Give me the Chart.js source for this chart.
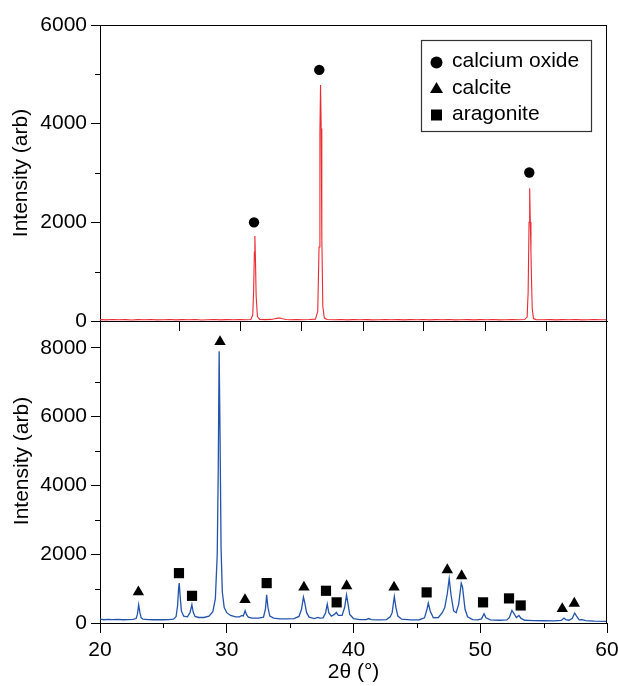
<!DOCTYPE html>
<html><head><meta charset="utf-8">
<script src="https://cdn.jsdelivr.net/npm/chart.js@4.4.0/dist/chart.umd.min.js"></script>
<style>
html,body{margin:0;padding:0;background:#fff;width:618px;height:686px;overflow:hidden}
#wrapTop{position:absolute;left:0;top:0;width:618px;height:340px;z-index:2}
#wrapBot{position:absolute;left:0;top:296px;width:618px;height:390px;z-index:1}
canvas{display:block}
</style></head><body>
<div id="wrapBot"><canvas id="bot" width="618" height="390"></canvas></div>
<div id="wrapTop"><canvas id="top" width="618" height="340"></canvas></div>
<script>
// ---------- data ----------
const topTheta = [20,20.5,21,21.5,22,22.5,23,23.5,24,24.5,25,25.5,26,26.5,27,27.5,28,28.5,29,29.5,30,30.5,31,31.5,31.9,32.05,32.12,32.18,32.22,32.26,32.32,32.42,32.6,33,33.5,33.8,34.0,34.2,34.4,34.7,35,35.5,36,36.5,37.0,37.18,37.28,37.35,37.4,37.45,37.5,37.58,37.7,37.9,38.5,39,39.5,40,40.5,41,41.5,42,42.5,43,43.5,44,44.5,45,45.5,46,46.5,47,47.5,48,48.5,49,49.5,50,50.5,51,51.5,52,52.5,53,53.5,53.7,53.78,53.85,53.9,53.95,54.0,54.04,54.1,54.2,54.4,55,55.5,56,56.5,57,57.5,58,58.5,59,59.5,60];
const topIntensity = [28,22,30,25,27,20,28,24,30,22,26,30,22,27,24,29,21,26,30,23,27,25,29,24,30,120,600,1400,1723,1300,500,90,32,28,32,45,58,60,45,30,26,28,24,29,38,200,1500,3800,4784,3900,1700,300,60,30,26,29,23,27,25,28,22,26,29,24,27,22,28,25,30,23,27,24,29,22,26,28,23,27,25,29,22,26,28,24,30,80,600,2000,2690,2000,1400,900,250,50,28,25,28,23,27,25,29,22,26,28,24,26];

const botTheta = [20.0,20.3,20.6,21.0,21.4,21.8,22.2,22.6,22.85,22.95,23.05,23.15,23.25,23.4,23.8,24.2,24.6,25.0,25.4,25.8,26.0,26.12,26.2,26.25,26.32,26.42,26.6,26.9,27.1,27.25,27.35,27.5,27.8,28.2,28.6,28.9,29.1,29.25,29.33,29.4,29.47,29.55,29.65,29.8,30.0,30.3,30.7,31.0,31.2,31.3,31.45,31.55,31.7,32.0,32.5,32.9,33.05,33.15,33.25,33.4,33.7,34.2,34.8,35.3,35.7,35.9,36.05,36.15,36.3,36.5,36.9,37.2,37.35,37.6,37.8,37.93,38.05,38.25,38.5,38.65,38.8,39.1,39.3,39.45,39.55,39.7,40.0,40.5,41.0,41.2,41.4,42.0,42.6,42.9,43.05,43.22,43.35,43.5,43.8,44.5,45.2,45.6,45.8,45.9,46.05,46.3,46.7,47.0,47.2,47.4,47.55,47.7,47.9,48.1,48.3,48.5,48.6,48.8,49.0,49.4,49.8,50.1,50.3,50.45,50.8,51.5,52.1,52.3,52.5,52.65,52.85,53.05,53.2,53.5,54.2,55.0,55.8,56.4,56.6,56.75,57.0,57.25,57.45,57.6,57.8,58.05,58.3,59.0,60.0];
const botIntensity = [110,95,105,100,108,95,100,105,130,250,530,300,150,110,100,95,100,95,100,110,180,500,1000,1160,800,350,200,180,300,530,320,190,160,160,200,330,700,2000,4500,7900,5500,2200,900,450,300,220,180,180,220,200,357,250,170,140,140,170,400,820,450,200,140,120,120,130,190,400,755,600,300,170,130,160,140,150,300,550,300,200,250,310,220,220,450,820,600,250,130,100,100,130,100,90,100,180,300,770,450,200,110,90,95,150,400,580,350,150,160,300,450,850,1295,800,350,300,550,1160,1050,400,180,100,90,120,270,150,90,80,90,160,366,280,160,220,140,80,70,65,60,75,145,100,80,130,290,200,90,100,70,55,50];

const caoMarkX = [32.15, 37.3, 53.87];
const caoMarkY = [2000, 5090, 3010];
const calciteX = [23.03, 29.47, 31.44, 36.09, 39.46, 43.2, 47.4, 48.53, 56.47, 57.42];
const calciteY = [900, 8175, 675, 1040, 1080, 1040, 1545, 1370, 415, 570];
const aragoniteX = [26.23, 27.26, 33.15, 37.83, 38.67, 45.77, 50.22, 52.27, 53.19];
const aragoniteY = [1450, 790, 1160, 937, 600, 890, 600, 715, 510];

const topXTicks = [26.3, 31.1, 35.9, 40.75, 45.55, 50.4, 55.25];
const topYTicks = [0, 2000, 4000, 6000];
const topYMinor = [1000, 3000, 5000];
const botXTicks = [20, 30, 40, 50, 60];
const botXMinor = [25, 35, 45, 55];
const botYTicks = [0, 2000, 4000, 6000, 8000];
const botYMinor = [1000, 3000, 5000, 7000];
const legendLabels = ['calcium oxide', 'calcite', 'aragonite'];
const yTitle = 'Intensity (arb)';
const xTitle = '2θ (°)';

// ---------- chart setup ----------
const FONT = '"Liberation Sans", Arial, Helvetica, sans-serif';
Chart.defaults.font.family = FONT;
Chart.defaults.font.size = 21;
Chart.defaults.color = '#000';

const pairs = (xs, ys) => xs.map((x, i) => ({x: x, y: ys[i]}));

const axisExtras = {
  id: 'axisExtras',
  afterDraw(chart, args, opts) {
    const ctx = chart.ctx, a = chart.chartArea, xs = chart.scales.x, ys = chart.scales.y;
    ctx.save();
    ctx.strokeStyle = '#000';
    ctx.lineWidth = 1;
    ctx.beginPath();
    (opts.minorX || []).forEach(v => {
      const p = Math.round(xs.getPixelForValue(v)) + 0.5;
      ctx.moveTo(p, a.bottom); ctx.lineTo(p, a.bottom + 5);
    });
    (opts.minorY || []).forEach(v => {
      const p = Math.round(ys.getPixelForValue(v)) + 0.5;
      ctx.moveTo(a.left, p); ctx.lineTo(a.left - 5, p);
    });
    const r = Math.round(a.right) - 0.5;
    const t = Math.round(a.top) + 0.5;
    if (opts.boxTop) {
      ctx.moveTo(a.left, t); ctx.lineTo(r + 0.5, t);
      ctx.moveTo(r, t); ctx.lineTo(r, a.bottom);
    } else {
      ctx.moveTo(r, a.top); ctx.lineTo(r, a.bottom);
    }
    ctx.stroke();
    if (opts.yTitleAt) {
      ctx.save();
      ctx.fillStyle = '#000';
      ctx.font = '21px ' + FONT;
      ctx.textAlign = 'center';
      ctx.textBaseline = 'middle';
      ctx.translate(opts.yTitleAt[0], opts.yTitleAt[1]);
      ctx.rotate(-Math.PI / 2);
      ctx.fillText(yTitle, 0, 0);
      ctx.restore();
    }
    if (opts.legend) {
      const bx = 421.5, by = 40.5, bw = 170, bh = 91;
      ctx.strokeStyle = '#333';
      ctx.lineWidth = 1.2;
      ctx.strokeRect(bx, by, bw, bh);
      ctx.fillStyle = '#000';
      ctx.font = '21px ' + FONT;
      ctx.textBaseline = 'middle';
      ctx.textAlign = 'left';
      const mx = 436.5, rows = [61.5, 88, 114.5];
      ctx.beginPath(); ctx.arc(mx, rows[0] + 1, 6, 0, Math.PI * 2); ctx.fill();
      ctx.beginPath();
      ctx.moveTo(mx, rows[1] - 6); ctx.lineTo(mx + 6.5, rows[1] + 5); ctx.lineTo(mx - 6.5, rows[1] + 5);
      ctx.closePath(); ctx.fill();
      ctx.fillRect(mx - 5.5, rows[2] - 5, 11, 11);
      legendLabels.forEach((s, i) => ctx.fillText(s, 452, rows[i]));
    }
    ctx.restore();
  }
};

function yScale(max, ticks, showTitle) {
  return {
    type: 'linear', min: 0, max: max,
    afterBuildTicks: s => { s.ticks = ticks.map(v => ({value: v})); },
    ticks: {padding: 4, callback: v => String(v), font: {size: 21}},
    grid: {display: true, drawOnChartArea: false, drawTicks: true, tickLength: 9, tickColor: '#000', tickWidth: 1},
    border: {display: true, color: '#000', width: 1},
    title: {display: showTitle, text: yTitle, font: {size: 21}, padding: {top: 9, bottom: 0}},
    afterFit: s => { s.width = 100; s.paddingTop = 0; s.paddingBottom = 0; }
  };
}

new Chart(document.getElementById('top'), {
  type: 'scatter',
  data: {
    datasets: [
      {label: 'calcium oxide', data: pairs(caoMarkX, caoMarkY), pointStyle: 'circle', pointRadius: 5.2,
       backgroundColor: '#000', borderColor: '#000', borderWidth: 0, order: 0},
      {label: 'CaO pattern', data: pairs(topTheta, topIntensity), showLine: true, pointRadius: 0,
       borderColor: '#ec2a32', borderWidth: 1.1, tension: 0, fill: false, order: 1}
    ]
  },
  options: {
    responsive: false, animation: false, events: [],
    layout: {padding: {top: 25, right: 11, left: 0, bottom: 0}},
    plugins: {legend: {display: false}, tooltip: {enabled: false},
      axisExtras: {minorY: topYMinor, boxTop: true, legend: true}},
    scales: {
      x: {
        type: 'linear', min: 20, max: 60,
        afterBuildTicks: s => { s.ticks = topXTicks.map(v => ({value: v})); },
        ticks: {callback: () => ''},
        grid: {display: true, drawOnChartArea: false, drawTicks: true, tickLength: 10, tickColor: '#000', tickWidth: 1},
        border: {display: true, color: '#000', width: 1},
        afterFit: s => { s.height = 19; s.paddingLeft = 0; s.paddingRight = 0; }
      },
      y: yScale(6000, topYTicks, true)
    }
  },
  plugins: [axisExtras]
});

new Chart(document.getElementById('bot'), {
  type: 'scatter',
  data: {
    datasets: [
      {label: 'calcite', data: pairs(calciteX, calciteY), pointStyle: 'triangle', pointRadius: 6.6,
       backgroundColor: '#000', borderColor: '#000', borderWidth: 0, order: 0},
      {label: 'aragonite', data: pairs(aragoniteX, aragoniteY), pointStyle: 'rect', pointRadius: 7.2,
       backgroundColor: '#000', borderColor: '#000', borderWidth: 0, order: 0},
      {label: 'sample pattern', data: pairs(botTheta, botIntensity), showLine: true, pointRadius: 0,
       borderColor: '#2354ac', borderWidth: 1.3, tension: 0, fill: false, order: 1}
    ]
  },
  options: {
    responsive: false, animation: false, events: [],
    layout: {padding: {top: 25, right: 11, left: 0, bottom: 0}},
    plugins: {legend: {display: false}, tooltip: {enabled: false},
      axisExtras: {minorX: botXMinor, minorY: botYMinor, boxTop: false, yTitleAt: [22, 165]}},
    scales: {
      x: {
        type: 'linear', min: 20, max: 60,
        afterBuildTicks: s => { s.ticks = botXTicks.map(v => ({value: v})); },
        ticks: {padding: 5, callback: v => String(v), font: {size: 21}, maxRotation: 0},
        grid: {display: true, drawOnChartArea: false, drawTicks: true, tickLength: 10, tickColor: '#000', tickWidth: 1},
        border: {display: true, color: '#000', width: 1},
        title: {display: true, text: xTitle, font: {size: 21}, padding: {top: 0, bottom: 1}},
        afterFit: s => { s.height = 63; s.paddingLeft = 0; s.paddingRight = 0; }
      },
      y: yScale(8780, botYTicks, false)
    }
  },
  plugins: [axisExtras]
});
</script>
</body></html>
